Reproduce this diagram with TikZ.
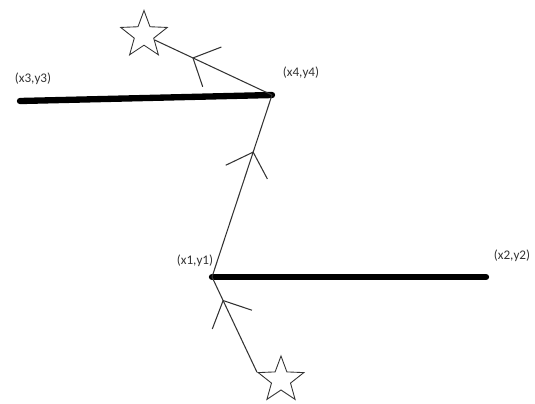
\documentclass[tikz,border=0pt]{standalone}
\usepackage{fontspec}
\setsansfont{Carlito}
\usetikzlibrary{arrows.meta, shapes.geometric, decorations.markings}

\begin{document}
\begin{tikzpicture}[x=0.02cm, y=-0.02cm,
          >={Straight Barb[length=12pt, width=25pt]},
          seg/.style={line width=3.6pt, line cap=round},
          ray/.style={line width=0.6pt, black!80},
          tag/.style={font=\sffamily\fontsize{7.5}{9}\selectfont, text=black!80, inner sep=1pt},
          starnode/.style={draw, star, star points=5, star point ratio=2.4, inner sep=0pt, line width=0.5pt, black!80},
          midarrow/.style={postaction={decorate}, decoration={markings, mark=at position #1 with {\arrow{>}}}}
        ]
        \useasboundingbox (0,0) rectangle (535,403);
        \coordinate (p1) at (212,277);
        \coordinate (p2) at (486,277);
        \coordinate (p3) at (20,101);
        \coordinate (p4) at (272,95);

        \node[starnode, minimum size=0.98cm] (topstar) at (144,35) {};
        \node[starnode, minimum size=0.96cm] (botstar) at (281,380) {};

        % labels
        \node[tag] (l1) at (195,261) {(x1,y1)};
        \node[tag] (l2) at (512,256) {(x2,y2)};
        \node[tag] (l3) at (33,79) {(x3,y3)};
        \node[tag] (l4) at (301,73) {(x4,y4)};

        % the two thick lines
        \draw[seg] (p3) -- (p4);
        \draw[seg] (p1) -- (p2);

        % path of the ray
        \draw[ray, midarrow=0.76] (botstar.outer point 2) -- (p1);
        \draw[ray, midarrow=0.69] (p1) -- (p4);
        \draw[ray, midarrow=0.68] (p4) -- (topstar);
\end{tikzpicture}
\end{document}
